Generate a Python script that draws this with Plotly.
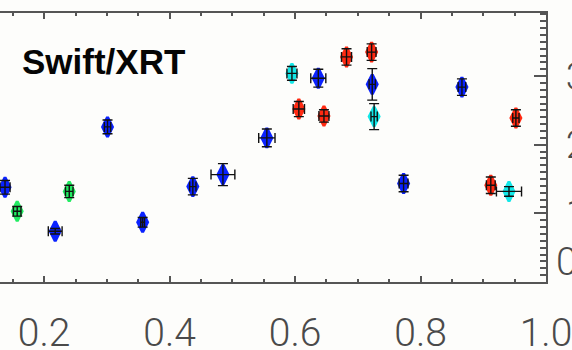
import plotly.graph_objects as go

# Measurements grouped by marker colour: x, y and symmetric errors
blue_x = [0.1376, 0.2176, 0.301, 0.357, 0.437, 0.485, 0.555, 0.637, 0.723, 0.773, 0.866]
blue_y = [1.38, 0.74, 2.26, 0.87, 1.39, 1.565, 2.10, 2.97, 2.88, 1.435, 2.84]
blue_ex = [0.008, 0.011, 0.005, 0.003, 0.005, 0.019, 0.013, 0.012, 0.005, 0.007, 0.006]
blue_ey = [0.10, 0.04, 0.10, 0.07, 0.12, 0.16, 0.13, 0.13, 0.23, 0.12, 0.12]

red_x = [0.606, 0.646, 0.682, 0.722, 0.912, 0.952]
red_y = [2.52, 2.42, 3.28, 3.35, 1.41, 2.39]
red_ex = [0.009, 0.008, 0.008, 0.007, 0.007, 0.005]
red_ey = [0.11, 0.09, 0.12, 0.12, 0.12, 0.12]

cyan_x = [0.595, 0.726, 0.941]
cyan_y = [3.04, 2.41, 1.32]
cyan_ex = [0.008, 0.005, 0.020]
cyan_ey = [0.10, 0.19, 0.07]

green_x = [0.157, 0.240]
green_y = [1.03, 1.32]
green_ex = [0.006, 0.006]
green_ey = [0.07, 0.09]

x_tick_vals = [0.2, 0.4, 0.6, 0.8, 1.0]
x_tick_text = ["0.2", "0.4", "0.6", "0.8", "1.0"]
y_tick_vals = [1, 2, 3]
y_tick_text = ["1", "2", "3"]
y_zero_label = "0"

series = [
    (blue_x, blue_y, blue_ex, blue_ey, "#0a22ff"),
    (red_x, red_y, red_ex, red_ey, "#ff2a12"),
    (cyan_x, cyan_y, cyan_ex, cyan_ey, "#12e8e8"),
    (green_x, green_y, green_ex, green_ey, "#22ec62"),
]

fig = go.Figure()

# coloured diamonds first
for xs, ys, exs, eys, col in series:
    fig.add_trace(go.Scatter(
        x=xs, y=ys, mode="markers", showlegend=False,
        marker=dict(symbol="diamond-tall", size=14, color=col,
                    line=dict(color=col, width=3)),
    ))

# black error crosses drawn over the diamonds
for xs, ys, exs, eys, col in series:
    fig.add_trace(go.Scatter(
        x=xs, y=ys, mode="markers", showlegend=False,
        marker=dict(size=2, color="rgba(0,0,0,0)"),
        error_x=dict(type="data", array=exs, color="#111111", thickness=1.4, width=5),
        error_y=dict(type="data", array=eys, color="#111111", thickness=1.4, width=5),
    ))

tick_font = dict(family="Roboto, Lato, DejaVu Sans", size=39, color="#4a4a4a", weight=300)
axis_col = "#555555"

fig.update_layout(
    width=572, height=350,
    margin=dict(l=0, r=26, t=13, b=68),
    paper_bgcolor="#fdfdfb", plot_bgcolor="#fdfdfb",
    xaxis=dict(
        range=[0.1296, 1.0], showgrid=False, zeroline=False, automargin=False,
        showline=True, linecolor=axis_col, linewidth=2, mirror="ticks",
        tickmode="array", tickvals=x_tick_vals, ticktext=x_tick_text,
        ticks="inside", ticklen=6, tickwidth=1.5, tickcolor=axis_col,
        minor=dict(dtick=0.05, tick0=0, ticks="inside", ticklen=3,
                   tickwidth=1.5, tickcolor=axis_col),
        tickfont=tick_font, ticklabelstandoff=15, ticklabeloverflow="allow",
    ),
    yaxis=dict(
        range=[0, 3.92], side="right", showgrid=False, zeroline=False, automargin=False,
        showline=True, linecolor=axis_col, linewidth=2,
        tickmode="array", tickvals=y_tick_vals, ticktext=y_tick_text,
        ticks="inside", ticklen=12, tickwidth=1.5, tickcolor=axis_col,
        minor=dict(dtick=0.1, tick0=0, ticks="inside", ticklen=6,
                   tickwidth=1.5, tickcolor=axis_col),
        tickfont=tick_font, ticklabelstandoff=10, ticklabeloverflow="allow",
    ),
)

fig.add_annotation(
    xref="paper", yref="y", x=1.0, y=0, xanchor="left", yanchor="middle",
    xshift=8, yshift=20, text=y_zero_label, showarrow=False, font=tick_font,
)

fig.add_annotation(
    xref="paper", yref="paper", x=0.19, y=0.818, xanchor="center", yanchor="middle",
    text="<b>Swift/XRT</b>", showarrow=False,
    font=dict(family="Liberation Sans, Arial", size=35, color="#050505"),
)

fig.write_html("out.html")
